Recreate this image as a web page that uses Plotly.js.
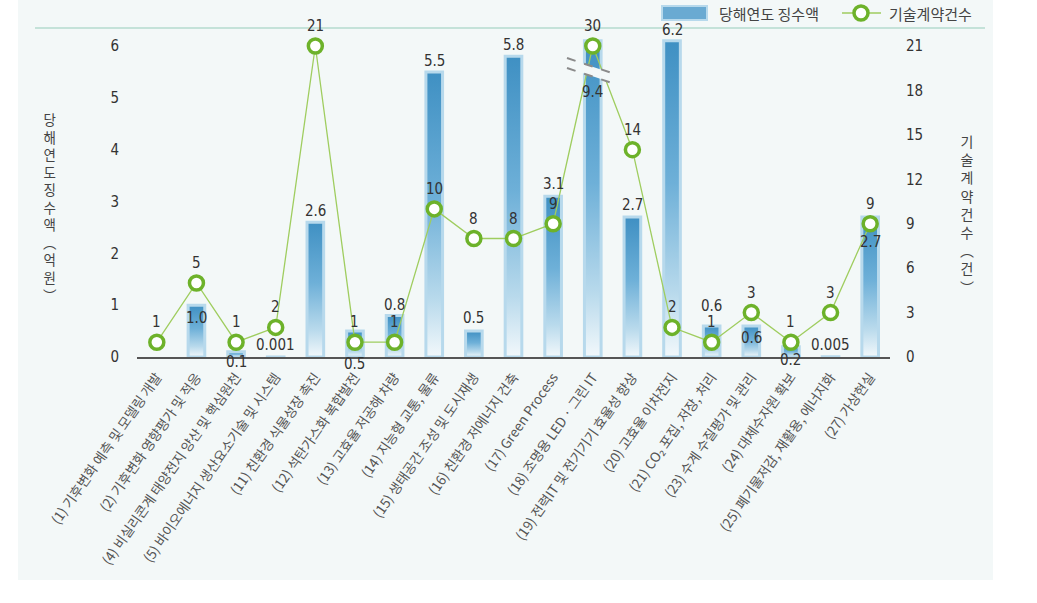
<!DOCTYPE html>
<html><head><meta charset="utf-8">
<script src="https://cdn.plot.ly/plotly-3.0.1.min.js"></script>
<style>
html,body{margin:0;padding:0;background:#fff;}
#wrap{position:relative;width:1037px;height:603px;overflow:hidden;}
#panel{position:absolute;left:18px;top:0;width:975px;height:580px;background:#f3f8f8;}
#chart{position:absolute;left:0;top:0;width:1037px;height:603px;}
</style></head><body>
<div id="wrap"><div id="panel"></div><div id="chart"></div></div>
<script>
// ---- data ----
const categories = [
  "(1) 기후변화 예측 및 모델링 개발",
  "(2) 기후변화 영향평가 및 적응",
  "(4) 비실리콘계 태양전지 양산 및 핵심원천",
  "(5) 바이오에너지 생산요소기술 및 시스템",
  "(11) 친환경 식물성장 촉진",
  "(12) 석탄가스화 복합발전",
  "(13) 고효율 저공해 차량",
  "(14) 지능형 교통, 물류",
  "(15) 생태공간 조성 및 도시재생",
  "(16) 친환경 저에너지 건축",
  "(17) Green Process",
  "(18) 조명용 LED · 그린 IT",
  "(19) 전력IT 및 전기기기 효율성 향상",
  "(20) 고효율 이차전지",
  "(21) CO₂ 포집, 저장, 처리",
  "(23) 수계 수질평가 및 관리",
  "(24) 대체수자원 확보",
  "(25) 폐기물저감, 재활용, 에너지화",
  "(27) 가상현실"
];
const collection = [null, 1.0, 0.1, 0.001, 2.6, 0.5, 0.8, 5.5, 0.5, 5.8, 3.1, 9.4, 2.7, 6.2, 0.6, 0.6, 0.2, 0.005, 2.7]; // 억원
const contracts  = [1, 5, 1, 2, 21, 1, 1, 10, 8, 8, 9, 30, 14, 2, 1, 3, 1, 3, 9];          // 건
const leftTicks  = [0, 1, 2, 3, 4, 5, 6];
const rightTicks = [0, 3, 6, 9, 12, 15, 18, 21];
const seriesNames = ["당해연도 징수액", "기술계약건수"];
const leftTitle  = ["당", "해", "연", "도", "징", "수", "액", "︵", "억", "원", "︶"];
const rightTitle = ["기", "술", "계", "약", "건", "수", "︵", "건", "︶"];

// ---- presentation (label offsets in px, positive = downward) ----
const barLabelDy  = [0, 13, 10, -12, -11, 33, -11, -11, -13, -11, -12, 51, -12, -11, -20, 12, 13, -12, 25];
const lineLabelDy = -20;
const BAR_CAP = 6.1, LINE_CAP = 21;   // axis break for (18)

const L = 137, R = 147, T = 28, B = 246, W = 1037, H = 603;
const PW = W - L - R, PH = H - T - B;
const px2x = p => (p - L) / PW;
const px2y = p => (H - B - p) / PH;

const numFont = "DejaVu Sans Condensed, DejaVu Sans, sans-serif";
const krFont = "Noto Sans CJK KR, Noto Sans, sans-serif";

const barY = collection.map(v => v == null ? null : Math.min(v, BAR_CAP));
const lineY = contracts.map(v => Math.min(v, LINE_CAP));
const fmt = v => (v >= 1 && Number.isInteger(v)) ? v.toFixed(1) : String(v);

const yMaxL = 6 * PH / (PH - 18), yMaxR = 21 * PH / (PH - 18);

const data = [
  { type: 'bar', x: categories, y: barY, width: 0.42, name: seriesNames[0],
    marker: { color: '#5aa2cf', line: { color: '#b7d9ec', width: 3 } }, hoverinfo: 'skip' },
  { type: 'scatter', mode: 'lines+markers', x: categories, y: lineY, yaxis: 'y2', name: seriesNames[1],
    line: { color: '#9fcd5f', width: 1.3 },
    marker: { symbol: 'circle', size: 14, color: '#ffffff', line: { color: '#6db22a', width: 3.5 } },
    hoverinfo: 'skip' }
];

const annotations = [];
collection.forEach((v, i) => {
  if (v == null) return;
  annotations.push({ x: categories[i], y: barY[i], xref: 'x', yref: 'y', text: fmt(v), showarrow: false,
    yanchor: 'middle', yshift: -barLabelDy[i], font: { family: numFont, size: 15, color: '#333' } });
});
contracts.forEach((v, i) => {
  annotations.push({ x: categories[i], y: lineY[i], xref: 'x', yref: 'y2', text: String(v), showarrow: false,
    yanchor: 'middle', yshift: -lineLabelDy, font: { family: numFont, size: 15, color: '#333' } });
});
// vertical axis titles (one stacked text each)
annotations.push({ x: px2x(50), y: px2y(207), xref: 'paper', yref: 'paper', text: leftTitle.join('<br>'),
  showarrow: false, xanchor: 'center', yanchor: 'middle', font: { family: krFont, size: 13.5, color: '#444' } });
annotations.push({ x: px2x(967), y: px2y(214), xref: 'paper', yref: 'paper', text: rightTitle.join('<br>'),
  showarrow: false, xanchor: 'center', yanchor: 'middle', font: { family: krFont, size: 14, color: '#444' } });
// legend texts
annotations.push({ x: px2x(717), y: px2y(13), xref: 'paper', yref: 'paper', xanchor: 'left', yanchor: 'middle',
  text: seriesNames[0], showarrow: false, font: { family: krFont, size: 15, color: '#444' } });
annotations.push({ x: px2x(887), y: px2y(13), xref: 'paper', yref: 'paper', xanchor: 'left', yanchor: 'middle',
  text: seriesNames[1], showarrow: false, font: { family: krFont, size: 15, color: '#444' } });

const breakIdx = collection.indexOf(Math.max(...collection.filter(v => v != null)));
const sc = PH / yMaxL;
const yAt = p => (H - B - p) / sc;
const shapes = [
  // top rule
  { type: 'line', xref: 'paper', yref: 'paper', x0: px2x(35), x1: px2x(985), y0: 1, y1: 1,
    line: { color: '#c4e2d9', width: 2 } },
  // axis break band
  { type: 'line', xref: 'x', yref: 'y', x0: breakIdx - 0.65, x1: breakIdx + 0.64, y0: yAt(63), y1: yAt(80),
    line: { color: '#f3f8f8', width: 9 }, layer: 'above' },
  { type: 'line', xref: 'x', yref: 'y', x0: breakIdx - 0.65, x1: breakIdx + 0.64, y0: yAt(58), y1: yAt(75),
    line: { color: '#8a8a8a', width: 2, dash: 'dash' }, layer: 'above' },
  { type: 'line', xref: 'x', yref: 'y', x0: breakIdx - 0.65, x1: breakIdx + 0.64, y0: yAt(68), y1: yAt(85),
    line: { color: '#8a8a8a', width: 2, dash: 'dash' }, layer: 'above' },
  // legend swatches
  { type: 'rect', xref: 'paper', yref: 'paper', x0: px2x(662), x1: px2x(707), y0: px2y(20), y1: px2y(6),
    fillcolor: '#6aaad2', line: { color: '#b7d9ec', width: 2 } },
  { type: 'line', xref: 'paper', yref: 'paper', x0: px2x(842), x1: px2x(881), y0: px2y(13), y1: px2y(13),
    line: { color: '#9fcd5f', width: 1.3 } },
  { type: 'circle', xref: 'paper', yref: 'paper', xsizemode: 'pixel', ysizemode: 'pixel',
    xanchor: px2x(861), yanchor: px2y(13), x0: -7, x1: 7, y0: -7, y1: 7,
    fillcolor: '#ffffff', line: { color: '#6db22a', width: 3.5 } }
];

const layout = {
  width: W, height: H,
  margin: { l: L, r: R, t: T, b: B, pad: 0 },
  paper_bgcolor: 'rgba(0,0,0,0)', plot_bgcolor: 'rgba(0,0,0,0)',
  showlegend: false, bargap: 0.5,
  xaxis: { type: 'category', range: [-0.5, categories.length - 0.5], showline: true, linecolor: '#555', linewidth: 2,
    showgrid: false, ticks: 'outside', ticklen: 5, tickcolor: 'rgba(0,0,0,0)', tickangle: -55,
    tickfont: { family: krFont, size: 13.5, color: '#555' }, automargin: false },
  yaxis: { range: [0, yMaxL], tickvals: leftTicks, showgrid: false, zeroline: false, showline: false,
    ticks: 'outside', ticklen: 14, tickcolor: 'rgba(0,0,0,0)', tickfont: { family: numFont, size: 15, color: '#333' } },
  yaxis2: { overlaying: 'y', side: 'right', range: [0, yMaxR], tickvals: rightTicks, showgrid: false, zeroline: false,
    showline: false, ticks: 'outside', ticklen: 12, tickcolor: 'rgba(0,0,0,0)', tickfont: { family: numFont, size: 15, color: '#333' } },
  annotations: annotations, shapes: shapes
};

Plotly.newPlot('chart', data, layout, { staticPlot: true, displayModeBar: false }).then(gd => {
  const ns = 'http://www.w3.org/2000/svg';
  const svg = gd.querySelector('.main-svg');
  let defs = svg.querySelector('defs');
  if (!defs) { defs = document.createElementNS(ns, 'defs'); svg.insertBefore(defs, svg.firstChild); }
  const lg = document.createElementNS(ns, 'linearGradient');
  lg.setAttribute('id', 'barGrad'); lg.setAttribute('x1', '0'); lg.setAttribute('y1', '0');
  lg.setAttribute('x2', '0'); lg.setAttribute('y2', '1');
  [['0', '#3f90c3'], ['0.45', '#6eb0d8'], ['0.8', '#b9daec'], ['1', '#f2f8fb']].forEach(([o, c]) => {
    const s = document.createElementNS(ns, 'stop'); s.setAttribute('offset', o); s.setAttribute('stop-color', c); lg.appendChild(s);
  });
  defs.appendChild(lg);
  gd.querySelectorAll('.barlayer .point path').forEach(p => { p.style.fill = 'url(#barGrad)'; });
});
</script>
</body></html>
